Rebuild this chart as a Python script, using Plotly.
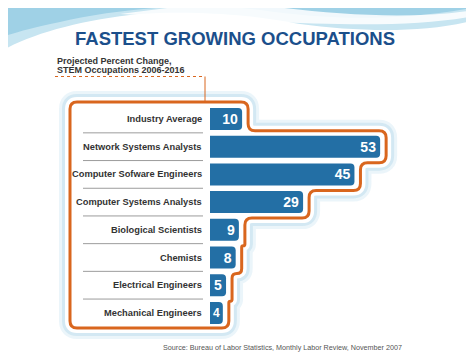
import plotly.graph_objects as go

# ---------------- data ----------------
categories = ["Industry Average", "Network Systems Analysts", "Computer Sofware Engineers",
              "Computer Systems Analysts", "Biological Scientists", "Chemists",
              "Electrical Engineers", "Mechanical Engineers"]
values = [10, 53, 45, 29, 9, 8, 5, 4]
title_text = "FASTEST GROWING OCCUPATIONS"
subtitle_lines = ["Projected Percent Change,", "STEM Occupations 2006-2016"]
source_text = "Source: Bureau of Labor Statistics, Monthly Labor Review, November 2007"

# ---------------- layout constants (screen pixels) ----------------
W, H = 474, 355
OFF = 8              # page body margin offset of the figure
ZERO_PX = 210.0      # screen x of value 0
PX_PER_UNIT = 3.21   # pixels per percent
ROW0_PX = 119.0      # screen y of first row
ROW_PX = 27.7        # pixels per row
BAR_H_PX = 22.0

def dx(px):  # screen x -> data x
    return (px - ZERO_PX) / PX_PER_UNIT

def dy(py):  # screen y -> data y (row index)
    return (py - ROW0_PX) / ROW_PX

def vx(v):   # data x -> screen x
    return ZERO_PX + v * PX_PER_UNIT

def ry(i):   # row -> screen y
    return ROW0_PX + i * ROW_PX

def px2paper(px, py):
    return (px - OFF) / W, 1 - (py - OFF) / H

n = len(values)
bar_width = BAR_H_PX / ROW_PX

fig = go.Figure()
fig.add_trace(go.Bar(
    y=list(range(n)), x=values, orientation="h", width=bar_width,
    marker=dict(color="#236fa5", line=dict(width=0)),
    text=[str(v) for v in values], textposition="inside", insidetextanchor="end",
    constraintext="none", textangle=0,
    textfont=dict(family="Liberation Sans", size=14, color="white", weight="bold"),
    hoverinfo="skip", showlegend=False,
))

shapes = []

# ---------- background wave (paper coords) ----------
def paper_path(points, close=True):
    s = ""
    for cmd, pts in points:
        coords = " ".join("%.4f,%.4f" % px2paper(*p) for p in pts)
        s += f"{cmd} {coords} "
    if close:
        s += "Z"
    return s

wave1 = paper_path([
    ("M", [(0, 0)]), ("L", [(W + OFF, 0)]), ("L", [(W + OFF, 18)]),
    ("C", [(430, 34), (360, 32), (300, 24)]),
    ("C", [(260, 16), (200, 10), (140, 14)]),
    ("C", [(80, 20), (30, 34), (0, 52)]),
])
shapes.append(dict(type="path", path=wave1, xref="paper", yref="paper",
                   fillcolor="#c7e5f1", line=dict(width=0), layer="below"))
wave2 = paper_path([
    ("M", [(0, 0)]), ("L", [(W + OFF, 0)]), ("L", [(W + OFF, 6)]),
    ("C", [(400, 22), (330, 20), (260, 10)]),
    ("C", [(200, 2), (120, 8), (60, 22)]),
    ("C", [(30, 28), (10, 34), (0, 38)]),
])
shapes.append(dict(type="path", path=wave2, xref="paper", yref="paper",
                   fillcolor="#9fd1e6", line=dict(width=0), layer="below"))
swoosh = paper_path([
    ("M", [(230, 0)]),
    ("C", [(300, 12), (400, 22), (W, 10)]),
    ("L", [(W, 16)]),
    ("C", [(400, 30), (300, 24), (120, 14)]),
])
shapes.append(dict(type="path", path=swoosh, xref="paper", yref="paper",
                   fillcolor="rgba(255,255,255,0.85)", line=dict(width=0), layer="below"))

# ---------- stepped rounded outline ----------
MARGIN = 6
ends = [vx(v) + MARGIN for v in values]
LEFT, TOP, BOTTOM = 70.0, 102.0, 328.0
verts = [(LEFT, TOP), (ends[0], TOP)]
for i in range(n - 1):
    if ends[i + 1] > ends[i]:
        yb = ry(i + 1) - BAR_H_PX / 2 - 5
    else:
        yb = ry(i) + BAR_H_PX / 2 + 5
    verts.append((ends[i], yb))
    verts.append((ends[i + 1], yb))
verts.append((ends[-1], BOTTOM))
verts.append((LEFT, BOTTOM))

def rounded_path(vs, r=7.0):
    m = len(vs)
    segs = []
    for k in range(m):
        p0 = vs[k - 1]
        p1 = vs[k]
        p2 = vs[(k + 1) % m]
        l1 = ((p1[0] - p0[0]) ** 2 + (p1[1] - p0[1]) ** 2) ** 0.5
        l2 = ((p2[0] - p1[0]) ** 2 + (p2[1] - p1[1]) ** 2) ** 0.5
        rr = min(r, l1 / 2, l2 / 2)
        a = (p1[0] + (p0[0] - p1[0]) * rr / l1, p1[1] + (p0[1] - p1[1]) * rr / l1)
        b = (p1[0] + (p2[0] - p1[0]) * rr / l2, p1[1] + (p2[1] - p1[1]) * rr / l2)
        segs.append((a, p1, b))
    s = "M %.4f,%.4f " % (dx(segs[0][0][0]), dy(segs[0][0][1]))
    for k, (a, p1, b) in enumerate(segs):
        if k > 0:
            s += "L %.4f,%.4f " % (dx(a[0]), dy(a[1]))
        s += "Q %.4f,%.4f %.4f,%.4f " % (dx(p1[0]), dy(p1[1]), dx(b[0]), dy(b[1]))
    s += "Z"
    return s

outline = rounded_path(verts)
shapes.append(dict(type="path", path=outline, xref="x", yref="y",
                   line=dict(color="rgba(165,208,230,0.22)", width=22), layer="below"))
shapes.append(dict(type="path", path=outline, xref="x", yref="y",
                   line=dict(color="rgba(165,208,230,0.35)", width=16), layer="below"))
shapes.append(dict(type="path", path=outline, xref="x", yref="y",
                   line=dict(color="white", width=10), layer="below"))
shapes.append(dict(type="path", path=outline, xref="x", yref="y", fillcolor="white",
                   line=dict(color="#d9661e", width=3), layer="below"))

# connector from subtitle to outline
CONN_X, SUB_LINE_Y, SUB_LEFT = 205.0, 76.5, 55.0
shapes.append(dict(type="line", xref="x", yref="y", x0=dx(SUB_LEFT), x1=dx(CONN_X),
                   y0=dy(SUB_LINE_Y), y1=dy(SUB_LINE_Y),
                   line=dict(color="#d9661e", width=1, dash="dot"), layer="below"))
shapes.append(dict(type="line", xref="x", yref="y", x0=dx(CONN_X), x1=dx(CONN_X),
                   y0=dy(SUB_LINE_Y), y1=dy(TOP),
                   line=dict(color="#d9661e", width=1), layer="below"))

# separator lines
for i in range(n - 1):
    shapes.append(dict(type="line", xref="x", yref="y", x0=dx(83), x1=dx(203),
                       y0=i + 0.5, y1=i + 0.5,
                       line=dict(color="#9c9c9c", width=1), layer="below"))

annotations = []
for i, c in enumerate(categories):
    annotations.append(dict(x=dx(204), y=i, xref="x", yref="y", text=c, showarrow=False,
                            xanchor="right", yanchor="middle",
                            font=dict(family="Liberation Sans", size=9.3, color="#333333",
                                      weight="bold")))

tx, ty = px2paper(234.5, 38)
annotations.append(dict(x=tx, y=ty, xref="paper", yref="paper", text=title_text,
                        showarrow=False, xanchor="center", yanchor="middle",
                        font=dict(family="Liberation Sans", size=18.5, color="#1b4f8b",
                                  weight="bold")))
for k, line in enumerate(subtitle_lines):
    sx, sy = px2paper(SUB_LEFT, 61 + 8.8 * k)
    annotations.append(dict(x=sx, y=sy, xref="paper", yref="paper", text=line,
                            showarrow=False, xanchor="left", yanchor="middle",
                            font=dict(family="Liberation Sans", size=9.0, color="#333333",
                                      weight="bold")))
sx, sy = px2paper(161, 347)
annotations.append(dict(x=sx, y=sy, xref="paper", yref="paper", text=source_text,
                        showarrow=False, xanchor="left", yanchor="middle",
                        font=dict(family="Liberation Sans", size=7.2, color="#555555")))

fig.update_layout(
    width=W, height=H, margin=dict(l=0, r=0, t=0, b=0),
    paper_bgcolor="white", plot_bgcolor="rgba(0,0,0,0)",
    xaxis=dict(range=[dx(OFF), dx(OFF + W)], visible=False, fixedrange=True),
    yaxis=dict(range=[dy(OFF + H), dy(OFF)], visible=False, fixedrange=True),
    barcornerradius=4,
    shapes=shapes, annotations=annotations,
    showlegend=False,
)
fig.write_html("out.html")
